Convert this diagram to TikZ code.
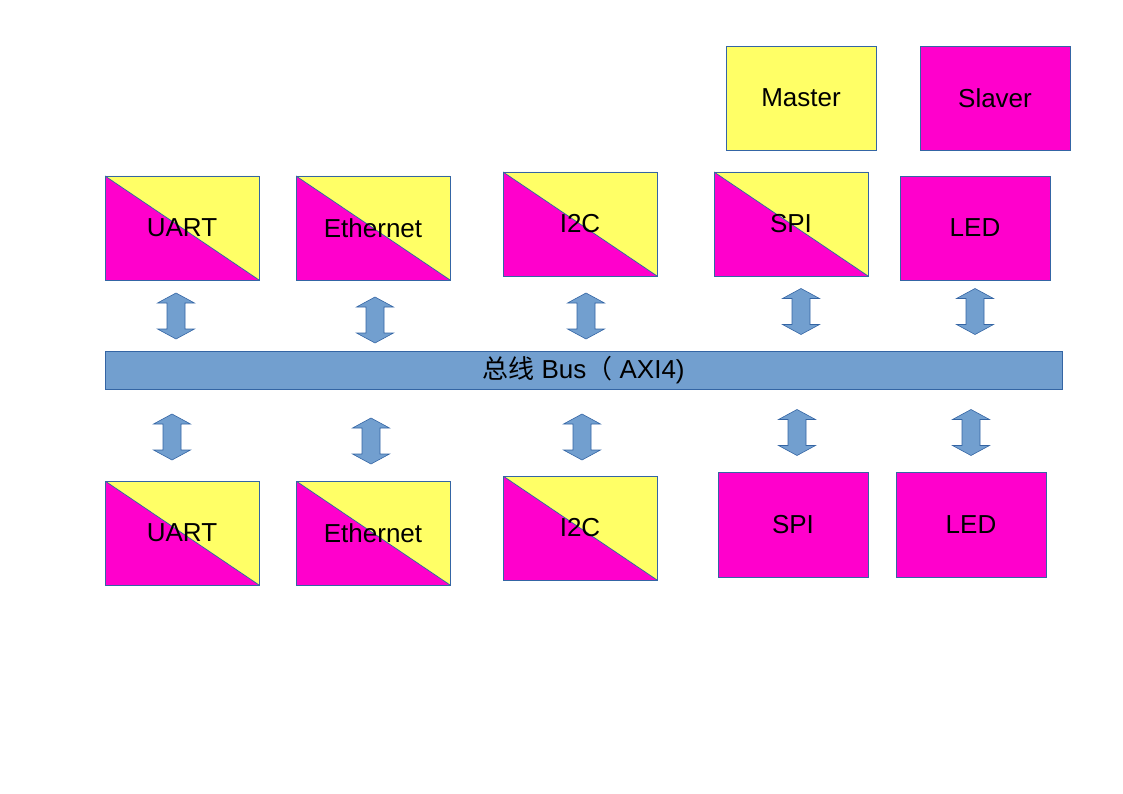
\documentclass[tikz,border=0pt]{standalone}
\usepackage{fontspec}
\setmainfont{Liberation Sans}
\newfontfamily\cjk{Noto Sans CJK SC}
\definecolor{yel}{HTML}{FFFF66}
\definecolor{mag}{HTML}{FF00CC}
\definecolor{edge}{HTML}{3465A4}
\definecolor{busf}{HTML}{729FCF}
\tikzset{
  box/.style={draw=edge, line width=0.8pt, inner sep=0pt, minimum width=154pt, minimum height=104pt,
    font=\fontsize{26}{30}\selectfont},
  masterbox/.style={box, fill=yel},
  slavebox/.style={box, fill=mag},
  splitbox/.style={box, fill=mag, path picture={
      \fill[yel] (path picture bounding box.north west) -- (path picture bounding box.north east)
        -- (path picture bounding box.south east) -- cycle;
      \draw[edge, line width=0.8pt] (path picture bounding box.north west) -- (path picture bounding box.south east);}},
  darr/.pic={\filldraw[fill=busf, draw=edge, line width=0.6pt]
     (0,-23) -- (18.5,-13) -- (9,-13) -- (9,13) -- (18.5,13) -- (0,23) -- (-18.5,13) -- (-9,13) -- (-9,-13) -- (-18.5,-13) -- cycle;}
}
\begin{document}
\begin{tikzpicture}[x=1pt, y=-1pt]
\useasboundingbox (0,0) rectangle (1123,794);
% legend
\node[masterbox, minimum width=150pt] (master) at (801,98) {Master};
\node[slavebox, minimum width=150pt] (slaver) at (995,98) {Slaver};
% top row
\node[splitbox] (uart1) at (182,228) {UART};
\node[splitbox] (eth1) at (373,228) {Ethernet};
\node[splitbox] (i2c1) at (580,224) {I2C};
\node[splitbox] (spi1) at (791,224) {SPI};
\node[slavebox, minimum width=150pt] (led1) at (975,228) {LED};
% bus
\node[draw=edge, line width=0.8pt, fill=busf, minimum width=957pt, minimum height=38pt, inner sep=0pt,
  font=\fontsize{26}{30}\selectfont] (bus) at (583.5,370) {{\cjk 总线} Bus{\cjk （} AXI4)};
% bottom row
\node[splitbox] (uart2) at (182,533) {UART};
\node[splitbox] (eth2) at (373,533) {Ethernet};
\node[splitbox] (i2c2) at (580,528) {I2C};
\node[slavebox, minimum width=150pt, minimum height=105pt] (spi2) at (793,524.5) {SPI};
\node[slavebox, minimum width=150pt, minimum height=105pt] (led2) at (971,524.5) {LED};
% arrows
\pic at (176,316) {darr};
\pic at (375,320) {darr};
\pic at (586,316) {darr};
\pic at (801,311.5) {darr};
\pic at (975,311.5) {darr};
\pic at (172,437) {darr};
\pic at (371,441) {darr};
\pic at (582,437) {darr};
\pic at (797,432.5) {darr};
\pic at (971,432.5) {darr};
\end{tikzpicture}
\end{document}
